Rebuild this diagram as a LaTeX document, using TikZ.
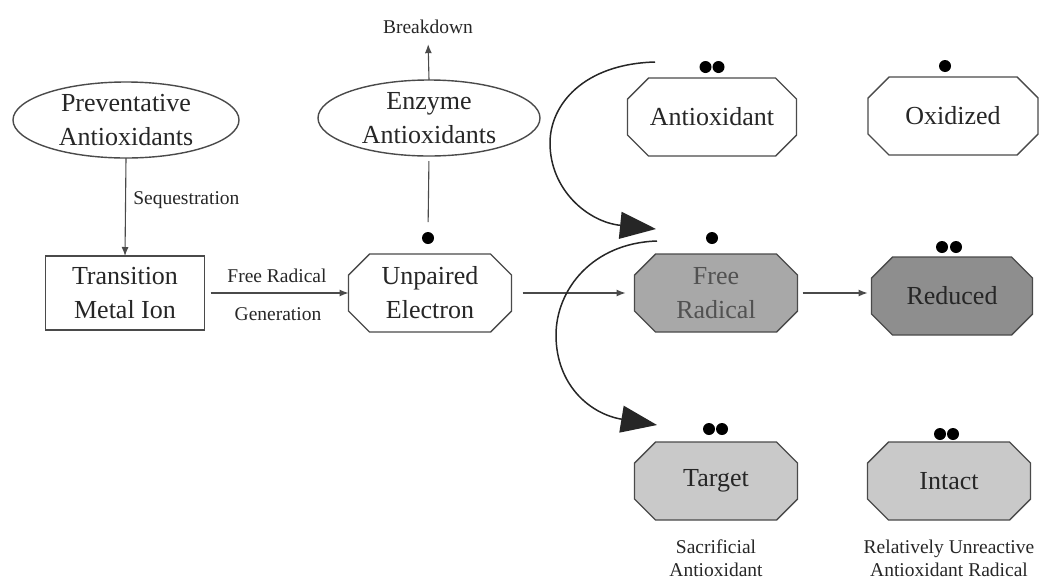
\documentclass[tikz,border=0pt]{standalone}
\usepackage{fontspec}
\setmainfont{Liberation Serif}
\usetikzlibrary{shapes.geometric,arrows.meta,backgrounds}

\definecolor{ink}{HTML}{262626}
\definecolor{edge}{HTML}{4A4A4A}
\definecolor{midfill}{HTML}{A8A8A8}
\definecolor{darkfill}{HTML}{8E8E8E}
\definecolor{lightfill}{HTML}{C9C9C9}

% chamfered outline behind a named text node
\newcommand{\octabox}[2]{%
  \draw[boxline, fill=#2]
    ([xshift=21pt]#1.north west) -- ([xshift=-21pt]#1.north east) --
    ([yshift=-21pt]#1.north east) -- ([yshift=21pt]#1.south east) --
    ([xshift=-21pt]#1.south east) -- ([xshift=21pt]#1.south west) --
    ([yshift=21pt]#1.south west) -- ([yshift=-21pt]#1.north west) -- cycle;}

\begin{document}
\begin{tikzpicture}[x=1pt, y=-1pt,
  every node/.style={text=ink, outer sep=0pt},
  big/.style={font=\fontsize{26}{34}\selectfont, align=center},
  small/.style={font=\fontsize{19.5}{23}\selectfont, align=center},
  boxline/.style={draw=edge, line width=1.4pt},
  ovalnode/.style={big, ellipse, boxline, inner sep=0pt, minimum width=226, minimum height=76},
  rectnode/.style={big, rectangle, boxline, inner sep=0pt, minimum width=159, minimum height=74},
  octnode/.style={big, inner sep=0pt, minimum width=163, minimum height=78},
  dot/.style={circle, fill=black, inner sep=0pt, minimum size=12},
  thinarrow/.style={draw=edge, line width=1.1pt, -{Latex[length=9pt,width=7pt]}},
  plainline/.style={draw=edge, line width=1.1pt},
  bigarrow/.style={draw=ink, line width=1.5pt, -{Triangle[length=36pt,width=27pt]}}
]
\useasboundingbox (0,0) rectangle (1043,582);

% left column
\node[ovalnode] (prev) at (126,120) {Preventative\\Antioxidants};
\node[rectnode] (tmi) at (125,293) {Transition\\Metal Ion};
\node[small, anchor=west] (seq) at (130,200) {Sequestration};

% enzyme branch
\node[ovalnode, minimum width=222] (enz) at (429,118) {Enzyme\\Antioxidants};
\node[small] (brk) at (428,27) {Breakdown};
\node[octnode] (upe) at (430,293) {Unpaired\\Electron};
\node[dot] (dU) at (428,238) {};
\node[small] (gen1) at (277,276) {Free Radical};
\node[small] (gen2) at (278,314) {Generation};

% right block
\node[octnode, minimum width=169] (anti) at (712,117) {Antioxidant};
\node[octnode, minimum width=170] (oxi) at (953,116) {Oxidized};
\node[octnode, text=ink!80] (frad) at (716,293) {Free\\Radical};
\node[octnode, minimum width=161] (red) at (952,296) {Reduced};
\node[octnode] (tgt) at (716,481) {Target};
\node[octnode] (intc) at (949,481) {Intact};

\node[small] (sac) at (716,558) {Sacrificial\\Antioxidant};
\node[small] (rel) at (949,558) {Relatively Unreactive\\Antioxidant Radical};

% electron dots
\node[dot] (dA1) at (705.5,67) {};
\node[dot] (dA2) at (718.5,67) {};
\node[dot] (dO) at (945,66) {};
\node[dot] (dF) at (712,238) {};
\node[dot] (dR1) at (942,247) {};
\node[dot] (dR2) at (956,247) {};
\node[dot] (dT1) at (709,429) {};
\node[dot] (dT2) at (722,429) {};
\node[dot] (dI1) at (940,434) {};
\node[dot] (dI2) at (953,434) {};

\begin{scope}[on background layer]
  \octabox{upe}{white}
  \octabox{anti}{white}
  \octabox{oxi}{white}
  \octabox{frad}{midfill}
  \octabox{red}{darkfill}
  \octabox{tgt}{lightfill}
  \octabox{intc}{lightfill}
\end{scope}

% straight connectors
\draw[thinarrow] (prev.south) -- (tmi.north);
\draw[thinarrow, shorten >=7pt] (enz.north) -- (brk.south);
\draw[plainline, shorten <=5pt, shorten >=10pt] (enz.south) -- (dU.north);
\draw[thinarrow, shorten <=6pt] (tmi.east) -- (upe.west);
\draw[thinarrow, shorten <=11pt, shorten >=9pt] (upe.east) -- (frad.west);
\draw[thinarrow, shorten <=5pt, shorten >=4pt] (frad.east) -- (red.west |- frad.east);

% curved transfer arrows
\coordinate (c1a) at (655,62);
\coordinate (c1b) at (656,229);
\coordinate (c2a) at (657,241);
\coordinate (c2b) at (657,425);
\draw[bigarrow] (c1a) .. controls (583,64) and (550,105) .. (550,143)
  .. controls (550,190) and (588,222) .. (c1b);
\draw[bigarrow] (c2a) .. controls (592,243) and (556,290) .. (556,335)
  .. controls (556,385) and (590,414) .. (c2b);
\end{tikzpicture}
\end{document}
